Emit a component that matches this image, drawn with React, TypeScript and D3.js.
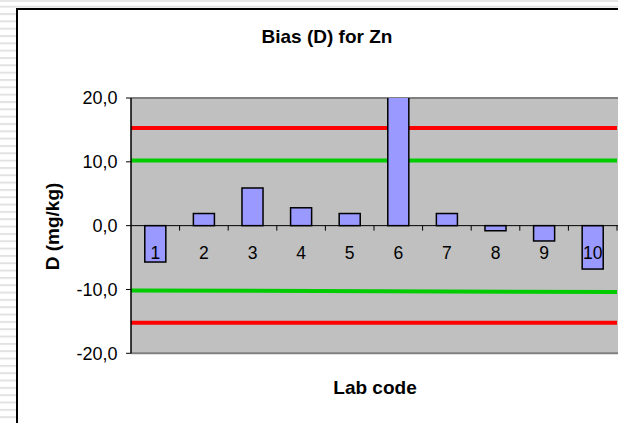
import React from "react";
import * as d3 from "d3";

// Lab codes and their bias D (mg/kg)
const labs = ["1", "2", "3", "4", "5", "6", "7", "8", "9", "10"];
const biasValues = [-5.7, 1.9, 5.9, 2.8, 1.9, 26, 1.9, -0.8, -2.4, -6.8];

// Axis ticks
const yTicks = [20, 10, 0, -10, -20];

// Limit lines (start value, end value)
const actionUpper = [15.3, 15.3];
const warningUpper = [10.2, 10.2];
const warningLower = [-10.15, -10.4];
const actionLower = [-15.2, -15.2];

const W = 618;
const H = 423;
const plot = { left: 131, right: 617, top: 98, bottom: 353.3 };
const FONT = "'Liberation Sans', Arial, Helvetica, sans-serif";

const fmt = (v: number) => v.toFixed(1).replace(".", ",").replace(/^-/, "-");

export default function App() {
  const x = d3
    .scaleBand<string>()
    .domain(labs)
    .range([plot.left, plot.right])
    .paddingInner(0.567)
    .paddingOuter(0.2835);
  const step = x.step();
  const y = d3.scaleLinear().domain([-20, 20]).range([plot.bottom, plot.top]);

  const limitLine = d3
    .line<number>()
    .x((_, i) => (i === 0 ? plot.left : plot.right))
    .y((v) => y(v));

  const boundaries = d3.range(1, labs.length + 1).map((i) => plot.left + i * step);

  return (
    <svg
      width={W}
      height={H}
      style={{ position: "absolute", left: 0, top: 0, background: "#fff" }}
      fontFamily={FONT}
    >
      <defs>
        <pattern id="stripes" width={20} height={7.33} patternUnits="userSpaceOnUse" y={5.7}>
          <rect x={0} y={0} width={20} height={2} fill="#e2e2e2" />
        </pattern>
        <clipPath id="plotClip">
          <rect x={plot.left} y={plot.top} width={plot.right - plot.left} height={plot.bottom - plot.top} />
        </clipPath>
      </defs>

      {/* slide background */}
      <rect x={0} y={0} width={W} height={H} fill="url(#stripes)" />
      <rect x={0} y={0} width={W} height={2} fill="#e6e6e6" />

      {/* chart frame */}
      <rect x={17} y={9} width={W + 50} height={H + 50} fill="#fff" stroke="#000" strokeWidth={2} />

      {/* title */}
      <text x={327} y={43} textAnchor="middle" fontSize={19} fontWeight="bold" fill="#000">
        Bias (D) for Zn
      </text>

      {/* plot area */}
      <rect
        x={plot.left}
        y={plot.top}
        width={plot.right - plot.left + 10}
        height={plot.bottom - plot.top}
        fill="#c0c0c0"
      />
      <line x1={plot.left} x2={W} y1={plot.top} y2={plot.top} stroke="#808080" strokeWidth={2} />
      <line x1={plot.left} x2={W} y1={plot.bottom} y2={plot.bottom} stroke="#808080" strokeWidth={2} />

      {/* limit lines */}
      <g fill="none" strokeWidth={4}>
        <path d={limitLine(actionUpper) || ""} stroke="#ff0000" />
        <path d={limitLine(warningUpper) || ""} stroke="#00cc00" />
        <path d={limitLine(warningLower) || ""} stroke="#00cc00" />
        <path d={limitLine(actionLower) || ""} stroke="#ff0000" />
      </g>

      {/* bars */}
      <g clipPath="url(#plotClip)">
        {labs.map((lab, i) => {
          const v = biasValues[i];
          const y0 = y(0);
          const y1 = y(v);
          return (
            <rect
              key={lab}
              x={x(lab)}
              y={Math.min(y0, y1)}
              width={x.bandwidth()}
              height={Math.abs(y1 - y0)}
              fill="#9999ff"
              stroke="#000"
              strokeWidth={1.5}
            />
          );
        })}
      </g>

      {/* zero axis with category ticks */}
      <line x1={plot.left} x2={W} y1={y(0)} y2={y(0)} stroke="#000" strokeWidth={1} />
      {boundaries.map((bx, i) => (
        <line key={i} x1={bx} x2={bx} y1={y(0)} y2={y(0) + 5} stroke="#000" strokeWidth={1} />
      ))}

      {/* category labels */}
      {labs.map((lab) => (
        <text
          key={lab}
          x={(x(lab) || 0) + x.bandwidth() / 2}
          y={259}
          textAnchor="middle"
          fontSize={17.5}
          fill="#000"
        >
          {lab}
        </text>
      ))}

      {/* value axis */}
      <line x1={plot.left} x2={plot.left} y1={plot.top} y2={plot.bottom} stroke="#000" strokeWidth={1.5} />
      {yTicks.map((t) => (
        <g key={t}>
          <line x1={plot.left - 5} x2={plot.left} y1={y(t)} y2={y(t)} stroke="#000" strokeWidth={1} />
          <text x={117.5} y={y(t) + 6.3} textAnchor="end" fontSize={18} fill="#000">
            {fmt(t)}
          </text>
        </g>
      ))}

      {/* axis titles */}
      <text
        transform={`translate(58.5, 226.5) rotate(-90)`}
        textAnchor="middle"
        fontSize={19}
        fontWeight="bold"
        fill="#000"
      >
        D (mg/kg)
      </text>
      <text x={375} y={394} textAnchor="middle" fontSize={19} fontWeight="bold" fill="#000">
        Lab code
      </text>
    </svg>
  );
}
